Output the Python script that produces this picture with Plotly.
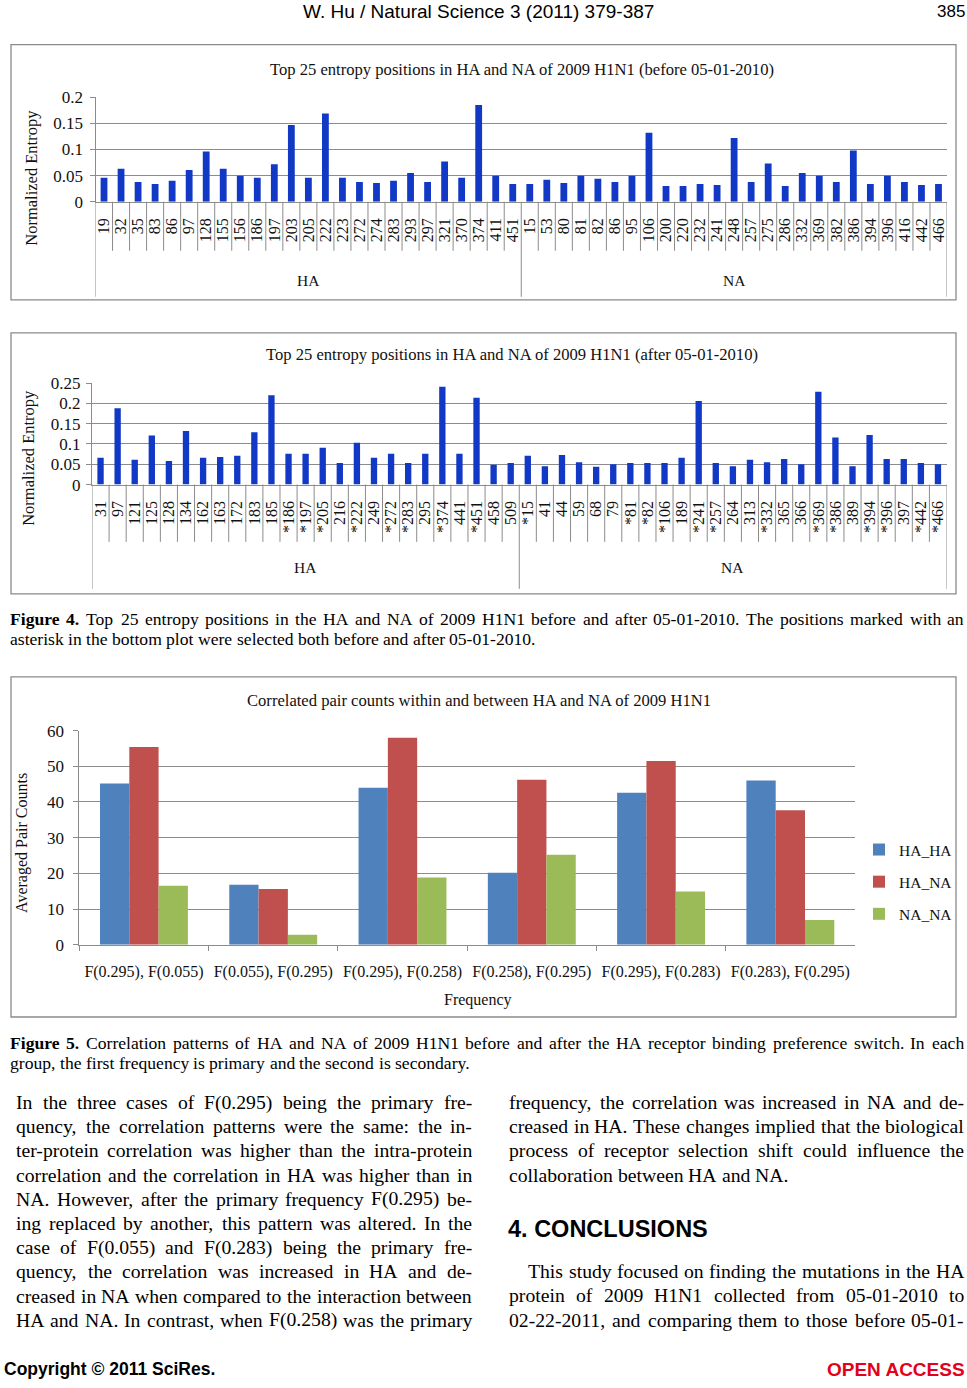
import plotly.graph_objects as go

W, H = 967, 1388

# ---------------- data ----------------
before_ha_pos = ["19", "32", "35", "83", "86", "97", "128", "155", "156", "186", "197", "203", "205",
                 "222", "223", "272", "274", "283", "293", "297", "321", "370", "374", "411", "451"]
before_ha_val = [0.046, 0.063, 0.038, 0.034, 0.040, 0.061, 0.096, 0.063, 0.050, 0.046, 0.072, 0.147, 0.046,
                 0.169, 0.046, 0.038, 0.036, 0.040, 0.055, 0.038, 0.077, 0.046, 0.185, 0.050, 0.034]
before_na_pos = ["15", "53", "80", "81", "82", "86", "95", "106", "200", "220", "232", "241", "248",
                 "257", "275", "286", "332", "369", "382", "386", "394", "396", "416", "442", "466"]
before_na_val = [0.034, 0.042, 0.036, 0.050, 0.044, 0.038, 0.050, 0.132, 0.030, 0.030, 0.034, 0.032, 0.122,
                 0.038, 0.073, 0.030, 0.055, 0.050, 0.038, 0.098, 0.034, 0.050, 0.038, 0.032, 0.034]

after_ha_pos = ["31", "97", "121", "125", "128", "134", "162", "163", "172", "183", "185", "*186", "*197",
                "*205", "216", "*222", "249", "*272", "*283", "295", "*374", "441", "*451", "458", "509"]
after_ha_val = [0.066, 0.188, 0.061, 0.121, 0.058, 0.132, 0.066, 0.068, 0.071, 0.129, 0.220, 0.076, 0.076,
                0.091, 0.053, 0.103, 0.066, 0.076, 0.053, 0.076, 0.241, 0.076, 0.214, 0.049, 0.053]
after_na_pos = ["*15", "41", "44", "59", "68", "79", "*81", "*82", "*106", "189", "*241", "*257", "264",
                "313", "*332", "365", "366", "*369", "*386", "389", "*394", "*396", "397", "*442", "*466"]
after_na_val = [0.071, 0.045, 0.073, 0.055, 0.044, 0.050, 0.053, 0.053, 0.053, 0.066, 0.206, 0.053, 0.045,
                0.061, 0.055, 0.063, 0.050, 0.229, 0.116, 0.045, 0.122, 0.063, 0.063, 0.053, 0.050]

freq_groups = ["F(0.295), F(0.055)", "F(0.055), F(0.295)", "F(0.295), F(0.258)",
               "F(0.258), F(0.295)", "F(0.295), F(0.283)", "F(0.283), F(0.295)"]
ha_ha = [45.2, 16.8, 44.0, 20.2, 42.6, 46.0]
ha_na = [55.4, 15.6, 58.0, 46.2, 51.5, 37.7]
na_na = [16.5, 2.8, 18.8, 25.2, 14.9, 6.9]

title1 = "Top 25 entropy positions in HA and NA of 2009 H1N1 (before 05-01-2010)"
title2 = "Top 25 entropy positions in HA and NA of 2009 H1N1 (after 05-01-2010)"
title3 = "Correlated pair counts within and between HA and NA of 2009 H1N1"

cap4 = [[("Figure", True), ("4.", True)] + [(w, False) for w in
        "Top 25 entropy positions in the HA and NA of 2009 H1N1 before and after 05-01-2010. The positions marked with an".split()],
        [(w, False) for w in "asterisk in the bottom plot were selected both before and after 05-01-2010.".split()]]
cap5 = [[("Figure", True), ("5.", True)] + [(w, False) for w in
        "Correlation patterns of HA and NA of 2009 H1N1 before and after the HA receptor binding preference switch. In each".split()],
        [(w, False) for w in "group, the first frequency is primary and the second is secondary.".split()]]

left_col = [
    "In the three cases of F(0.295) being the primary fre-",
    "quency, the correlation patterns were the same: the in-",
    "ter-protein correlation was higher than the intra-protein",
    "correlation and the correlation in HA was higher than in",
    "NA. However, after the primary frequency F(0.295) be-",
    "ing replaced by another, this pattern was altered. In the",
    "case of F(0.055) and F(0.283) being the primary fre-",
    "quency, the correlation was increased in HA and de-",
    "creased in NA when compared to the interaction between",
    "HA and NA. In contrast, when F(0.258) was the primary",
]
right_col_a = [
    "frequency, the correlation was increased in NA and de-",
    "creased in HA. These changes implied that the biological",
    "process of receptor selection shift could influence the",
    "collaboration between HA and NA.",
]
right_col_b = [
    "This study focused on finding the mutations in the HA",
    "protein of 2009 H1N1 collected from 05-01-2010 to",
    "02-22-2011, and comparing them to those before 05-01-",
]

# ---------------- helpers ----------------
# the photographed page appears shifted ~8 px down and squeezed ~1.4 % vertically;
# pre-compensate so the picture lands where the reference has it
Y_OFF, Y_SCALE = 8.3, 0.986


def px(x):
    return x / W


def py(y):
    return 1 - ((y - Y_OFF) / Y_SCALE) / H


TIMES = {' ': 250, 'a': 444, 'b': 500, 'c': 444, 'd': 500, 'e': 444, 'f': 333, 'g': 500, 'h': 500, 'i': 278,
         'j': 278, 'k': 500, 'l': 278, 'm': 778, 'n': 500, 'o': 500, 'p': 500, 'q': 500, 'r': 333, 's': 389,
         't': 278, 'u': 500, 'v': 500, 'w': 722, 'x': 500, 'y': 500, 'z': 444,
         'A': 722, 'B': 667, 'C': 667, 'D': 722, 'E': 611, 'F': 556, 'G': 722, 'H': 722, 'I': 333, 'J': 389,
         'K': 722, 'L': 611, 'M': 889, 'N': 722, 'O': 722, 'P': 556, 'Q': 722, 'R': 667, 'S': 556, 'T': 611,
         'U': 722, 'V': 722, 'W': 944, 'X': 722, 'Y': 722, 'Z': 611,
         '.': 250, ',': 250, '-': 333, '(': 333, ')': 333, ':': 278, ';': 278, '*': 500, '/': 278, '_': 500}
TIMES_B = dict(TIMES)
TIMES_B.update({'F': 611, 'u': 556, 'r': 444, 'i': 278, 'g': 500, 'e': 444})


def tw(s, size, bold=False):
    tab = TIMES_B if bold else TIMES
    return sum(tab.get(c, 500) for c in s) / 1000.0 * size


annotations = []
shapes = []
SERIF = "Liberation Serif, Times New Roman, serif"
SANS = "Liberation Sans, Arial, sans-serif"
TXT = "#111111"
GRID = "#8C8C8C"
BOX = "#8A8A8A"


def ann(text, x, y, size, xanchor="center", family=SERIF, color=TXT, angle=0, xref="paper"):
    annotations.append(dict(text=text, x=x if xref != "paper" else px(x), y=py(y), xref=xref, yref="paper",
                            xanchor=xanchor, yanchor="middle", showarrow=False, textangle=angle,
                            borderpad=0, borderwidth=0,
                            font=dict(family=family, size=size, color=color)))


def add_line(tokens, x0, x1, y, size, justify):
    widths = [tw(t, size, b) for t, b in tokens]
    if justify and len(tokens) > 1:
        gap = (x1 - x0 - sum(widths)) / (len(tokens) - 1)
    else:
        gap = 0.25 * size
    x = x0
    for (t, b), w in zip(tokens, widths):
        ann("<b>%s</b>" % t if b else t, x, y, size, xanchor="left", color="#000000")
        x += w + gap


def add_par(lines, x0, x1, y0, dy, size, last_justified, indent=0):
    for i, line in enumerate(lines):
        toks = [(w, False) for w in line.split()]
        just = (i < len(lines) - 1) or last_justified
        add_line(toks, x0 + (indent if i == 0 else 0), x1, y0 + i * dy, size, just)


# ---------------- figure ----------------
fig = go.Figure()
BLUE = "#1238C6"

c1_labels = before_ha_pos + before_na_pos
c1_vals = before_ha_val + before_na_val
c2_labels = after_ha_pos + after_na_pos
c2_vals = after_ha_val + after_na_val
n1 = len(c1_labels)
n2 = len(c2_labels)

fig.add_trace(go.Bar(x=list(range(n1)), y=c1_vals, width=0.4, marker=dict(color=BLUE, line=dict(width=0)),
                     showlegend=False, xaxis="x", yaxis="y"))
fig.add_trace(go.Bar(x=list(range(n2)), y=c2_vals, width=0.37, marker=dict(color=BLUE, line=dict(width=0)),
                     showlegend=False, xaxis="x2", yaxis="y2"))

for name, vals, col in [("HA_HA", ha_ha, "#4F81BD"), ("HA_NA", ha_na, "#C0504D"), ("NA_NA", na_na, "#9BBB59")]:
    fig.add_trace(go.Bar(x=freq_groups, y=vals, name=name, legendgroup=name,
                         marker=dict(color=col, line=dict(width=0)), xaxis="x3", yaxis="y3"))

# chart geometry (pixels)
C1 = dict(x0=95.5, x1=947.0, y0=201.0, y1=96.5, sep=250.0, grp=296.0, lab=280.0)
C2 = dict(x0=92.0, x1=946.5, y0=483.7, y1=382.3, sep=541.0, grp=588.0, lab=567.0)
C3 = dict(x0=79.3, x1=855.0, y0=943.7, y1=729.7)

tickf = dict(family=SERIF, size=16, color=TXT)
yfont = dict(family=SERIF, size=17, color=TXT)

fig.update_layout(
    width=W, height=H, autosize=False,
    margin=dict(l=0, r=0, t=0, b=0),
    paper_bgcolor="white", plot_bgcolor="white",
    font=dict(family=SERIF, color=TXT),
    bargap=0.32, bargroupgap=0.0, barmode="group",
    xaxis=dict(domain=[px(C1["x0"]), px(C1["x1"])], range=[-0.5, n1 - 0.5], tickmode="array",
               tickvals=list(range(n1)), ticktext=c1_labels, tickangle=-90, ticks="", ticklabelstandoff=9,
               showline=True, linecolor=GRID, linewidth=1, showgrid=False, zeroline=False, tickfont=tickf,
               anchor="y"),
    yaxis=dict(domain=[py(C1["y0"]), py(C1["y1"])], range=[0, 0.2], dtick=0.05, tick0=0,
               showgrid=True, gridcolor=GRID, gridwidth=1, showline=True, linecolor=GRID, ticks="outside",
               ticklen=5, tickcolor=GRID, zeroline=False, tickfont=yfont, anchor="x", ticklabelstandoff=3),
    xaxis2=dict(domain=[px(C2["x0"]), px(C2["x1"])], range=[-0.5, n2 - 0.5], tickmode="array",
                tickvals=list(range(n2)), ticktext=c2_labels, tickangle=-90, ticks="", ticklabelstandoff=9,
                showline=True, linecolor=GRID, linewidth=1, showgrid=False, zeroline=False, tickfont=tickf,
                anchor="y2"),
    yaxis2=dict(domain=[py(C2["y0"]), py(C2["y1"])], range=[0, 0.25], dtick=0.05, tick0=0,
                showgrid=True, gridcolor=GRID, gridwidth=1, showline=True, linecolor=GRID, ticks="outside",
                ticklen=5, tickcolor=GRID, zeroline=False, tickfont=yfont, anchor="x2", ticklabelstandoff=2),
    xaxis3=dict(domain=[px(C3["x0"]), px(C3["x1"])], type="category", ticks="outside", tickson="boundaries",
                ticklen=5, tickcolor=GRID, showline=True, linecolor=GRID, showgrid=False, zeroline=False,
                tickfont=dict(family=SERIF, size=16, color=TXT), ticklabelstandoff=12, anchor="y3"),
    yaxis3=dict(domain=[py(C3["y0"]), py(C3["y1"])], range=[0, 60], dtick=10, tick0=0,
                showgrid=True, gridcolor=GRID, gridwidth=1, showline=True, linecolor=GRID, ticks="outside",
                ticklen=5, tickcolor=GRID, zeroline=False, tickfont=yfont, anchor="x3", ticklabelstandoff=6),
    legend=dict(x=px(859), y=py(832), xanchor="left", yanchor="top", traceorder="grouped",
                tracegroupgap=9, font=dict(family=SERIF, size=15.5, color=TXT), bgcolor="rgba(0,0,0,0)"),
)

# category separators for the two entropy charts
for xa, C, n, nha in [("x", C1, n1, len(before_ha_pos)), ("x2", C2, n2, len(after_ha_pos))]:
    for i in range(n + 1):
        edge = i - 0.5
        long = i in (0, nha, n)
        shapes.append(dict(type="line", xref=xa, yref="paper", x0=edge, x1=edge,
                           y0=py(C["y0"]), y1=py(C["grp"] if long else C["sep"]),
                           line=dict(color=GRID, width=1)))
    ann("HA", (nha - 1) / 2.0, C["lab"], 15.5, xref=xa)
    ann("NA", (nha + n - 1) / 2.0, C["lab"], 15.5, xref=xa)

# chart frames
for (x0, y0, x1, y1) in [(11, 44, 956, 299), (11, 332, 956, 593), (11, 676, 956, 1016)]:
    shapes.append(dict(type="rect", xref="paper", yref="paper", x0=px(x0), x1=px(x1), y0=py(y0), y1=py(y1),
                       line=dict(color=BOX, width=1.3), fillcolor="rgba(0,0,0,0)"))

# chart titles & axis titles
ann(title1, 521.5, 69, 16.6)
ann(title2, 512, 354, 16.6)
ann(title3, 478.5, 700, 16.6)
ann("Normalized Entropy", 32, 177, 16.5, angle=-90)
ann("Normalized Entropy", 29, 457, 16.5, angle=-90)
ann("Averaged Pair Counts", 22, 842, 16, angle=-90)
ann("Frequency", 478, 999, 16)

# page header / footer
ann("W. Hu / Natural Science 3 (2011) 379-387", 478, 11, 19, family=SANS, color="#000000")
ann("385", 965, 11, 17, xanchor="right", family=SANS, color="#000000")
ann("<b>Copyright © 2011 SciRes.</b>", 4, 1368, 17.5, xanchor="left", family=SANS, color="#000000")
ann("<b>OPEN ACCESS</b>", 965, 1368, 19, xanchor="right", family=SANS, color="#E3001B")

# captions
CAP = 17.6
add_line(cap4[0], 10, 964, 618, CAP, True)
add_line(cap4[1], 10, 964, 638, CAP, False)
add_line(cap5[0], 10, 964, 1042, CAP, True)
add_line(cap5[1], 10, 964, 1062, CAP, False)

# body text
BODY = 19.7
DY = 24.2
add_par(left_col, 16, 472, 1101, DY, BODY, True)
add_par(right_col_a, 509, 964, 1101, DY, BODY, False)
ann("<b>4. CONCLUSIONS</b>", 508, 1228, 23.5, xanchor="left", family=SANS, color="#000000")
add_par(right_col_b, 509, 964, 1270, DY, BODY, True, indent=19)

fig.update_layout(annotations=annotations, shapes=shapes)

page_fix = ("var s='margin:0;padding:0;overflow:hidden;width:967px;height:1388px;';"
            "document.documentElement.style.cssText=s;document.body.style.cssText=s;"
            "var gd=document.getElementById('{plot_id}');"
            "gd.style.position='fixed';gd.style.left='0px';gd.style.top='0px';")
fig.write_html("out.html", post_script=page_fix, config={"displayModeBar": False, "responsive": False})
